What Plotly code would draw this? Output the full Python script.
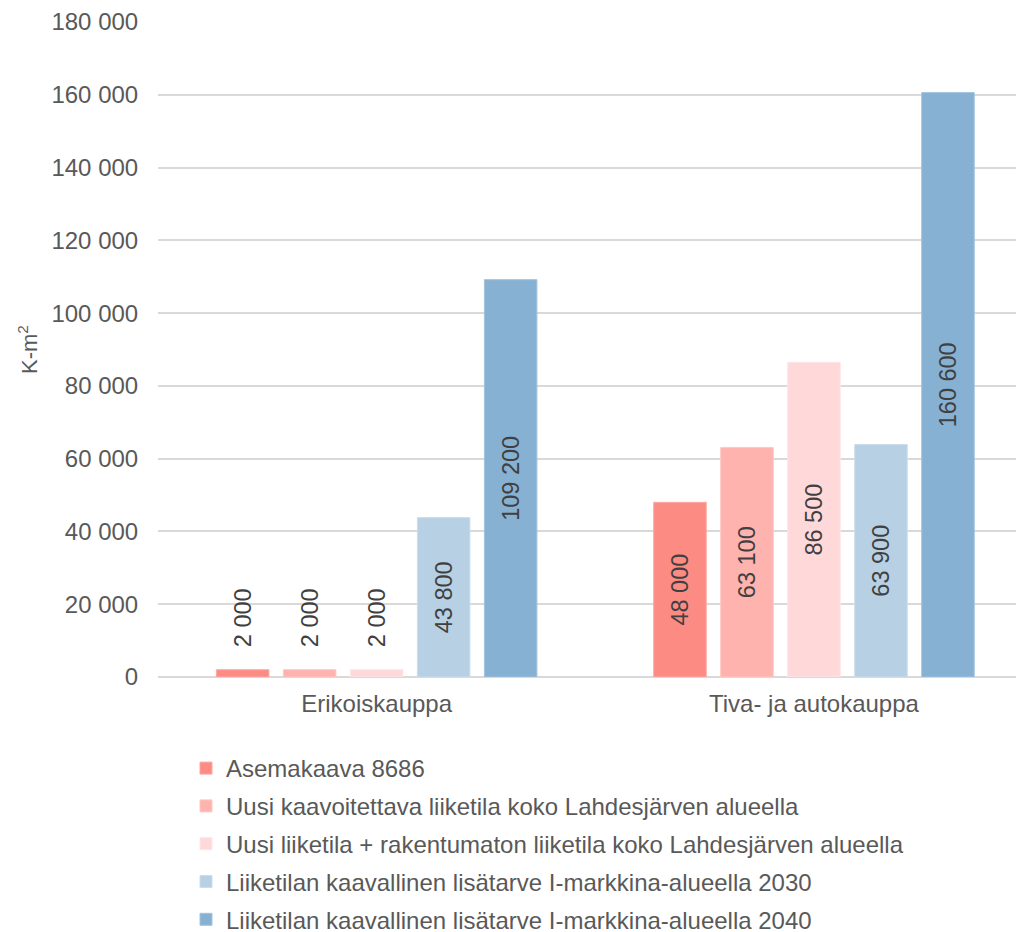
import plotly.graph_objects as go

categories = ["Erikoiskauppa", "Tiva- ja autokauppa"]
series_names = [
    "Asemakaava 8686",
    "Uusi kaavoitettava liiketila koko Lahdesjärven alueella",
    "Uusi liiketila + rakentumaton liiketila koko Lahdesjärven alueella",
    "Liiketilan kaavallinen lisätarve I-markkina-alueella 2030",
    "Liiketilan kaavallinen lisätarve I-markkina-alueella 2040",
]
asemakaava = [2000, 48000]
uusi_kaavoitettava = [2000, 63100]
uusi_rakentumaton = [2000, 86500]
lisatarve_2030 = [43800, 63900]
lisatarve_2040 = [109200, 160600]
series_values = [asemakaava, uusi_kaavoitettava, uusi_rakentumaton, lisatarve_2030, lisatarve_2040]
y_title = "K-m<sup>2</sup>"

colors = ["#FC8B84", "#FFB3AF", "#FFD9D9", "#B8D0E3", "#87B1D3"]
edge_colors = ["#FDA8A3", "#FFC6C3", "#FFE6E6", "#CCDDEB", "#A3C3DE"]
y_ticks = [0, 20000, 40000, 60000, 80000, 100000, 120000, 140000, 160000, 180000]

FONT = "Liberation Sans, Arial, sans-serif"
AXIS_GREY = "#595959"
LABEL_GREY = "#404040"
NBSP = "\u00a0"

fig = go.Figure()
for i, (name, vals, col, ecol) in enumerate(zip(series_names, series_values, colors, edge_colors)):
    small = [v < 10000 for v in vals]
    fig.add_trace(go.Bar(
        name=name,
        legendgroup=f"g{i}",
        x=categories,
        y=vals,
        marker=dict(color=col, line=dict(color=ecol, width=1)),
        texttemplate=[(NBSP * 3 + "%{y:,.0f}") if s else "%{y:,.0f}" for s in small],
        textposition=["outside" if s else "inside" for s in small],
        insidetextanchor="middle",
        textangle=-90,
        constraintext="none",
        textfont=dict(family=FONT, size=23.5, color=LABEL_GREY),
        cliponaxis=False,
    ))

fig.update_layout(
    width=1016,
    height=932,
    barmode="group",
    bargap=0.234,
    bargroupgap=0.216,
    separators=", ",
    paper_bgcolor="white",
    plot_bgcolor="white",
    font=dict(family=FONT, size=24, color=AXIS_GREY),
    margin=dict(l=158, r=0, t=22, b=255, autoexpand=False),
    showlegend=True,
    legend=dict(
        orientation="v",
        xref="container",
        yref="container",
        x=186 / 1016,
        xanchor="left",
        y=1 - 746 / 932,
        yanchor="top",
        font=dict(family=FONT, size=24, color=AXIS_GREY),
        bgcolor="rgba(0,0,0,0)",
        borderwidth=0,
        traceorder="grouped",
        tracegroupgap=3.6,
    ),
    xaxis=dict(
        range=[-0.5, 1.462],
        showgrid=False,
        zeroline=False,
        showline=False,
        ticks="outside",
        ticklen=5,
        tickcolor="rgba(0,0,0,0)",
        tickangle=0,
        tickfont=dict(family=FONT, size=24, color=AXIS_GREY),
    ),
    yaxis=dict(
        range=[0, 180000],
        tickvals=y_ticks,
        tickformat=",d",
        showgrid=True,
        gridcolor="#D9D9D9",
        gridwidth=1.5,
        zeroline=True,
        zerolinecolor="#D9D9D9",
        zerolinewidth=1.5,
        showline=False,
        ticks="outside",
        ticklen=14,
        tickcolor="rgba(0,0,0,0)",
        tickfont=dict(family=FONT, size=24, color=AXIS_GREY),
    ),
    annotations=[dict(
        text=y_title,
        xref="paper", yref="paper",
        x=(28 - 158) / 858, y=(677 - 350) / 655,
        xanchor="center", yanchor="middle",
        textangle=-90,
        showarrow=False,
        font=dict(family=FONT, size=22, color=AXIS_GREY),
    )],
)

fig.write_html("out.html")
